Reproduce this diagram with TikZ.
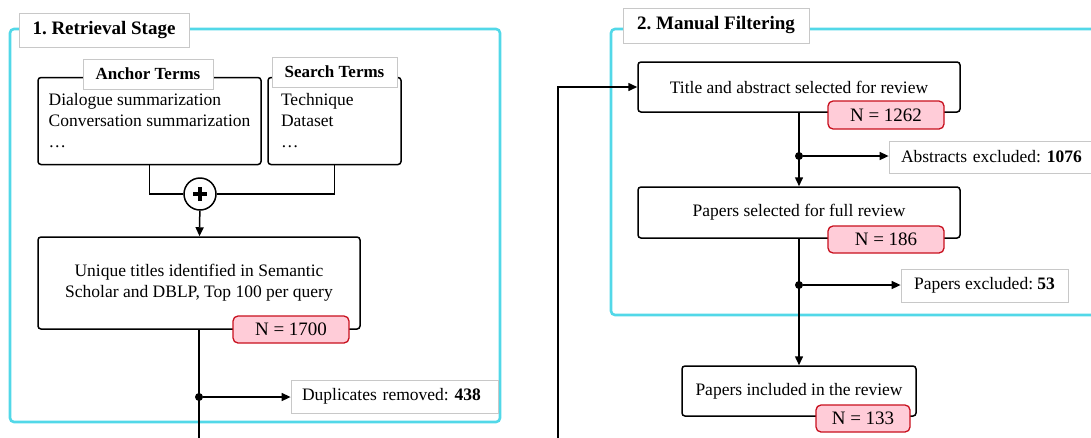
\documentclass[tikz,border=0pt]{standalone}
\usepackage{fontspec}
\setmainfont{Liberation Serif}
\usepackage{tikz}
\usetikzlibrary{arrows.meta}
\definecolor{stagecyan}{HTML}{52D8E8}
\definecolor{labelgray}{HTML}{C8C8C8}
\definecolor{countred}{HTML}{C8101E}
\definecolor{countpink}{HTML}{FFCCD8}
\newcommand{\boxfont}{\fontsize{17.5}{21}\selectfont}
\newcommand{\headfont}{\fontsize{19}{23}\selectfont\bfseries}
\newcommand{\countfont}{\fontsize{19}{23}\selectfont}
\frenchspacing

\begin{document}
\begin{tikzpicture}[x=1pt, y=-1pt, >={Triangle[length=9pt,width=8pt]},
  stageframe/.style={draw=stagecyan, line width=2.6pt, rounded corners=4pt},
  stagehead/.style={draw=labelgray, fill=white, line width=0.8pt, inner sep=0pt, font=\headfont},
  termhead/.style={draw=labelgray, fill=white, line width=0.8pt, inner sep=0pt, font=\fontsize{17}{21}\selectfont\bfseries},
  flowbox/.style={draw, line width=1.5pt, rounded corners=3pt, fill=white, inner sep=0pt, align=center, font=\boxfont},
  countbadge/.style={draw=countred, fill=countpink, line width=1.3pt, rounded corners=5pt, inner sep=0pt, font=\countfont},
  excludebox/.style={draw=labelgray, fill=white, line width=0.8pt, inner sep=0pt, font=\boxfont},
  flowline/.style={line width=1.5pt},
  junction/.style={circle, fill, inner sep=0pt, minimum size=8pt}]
  \useasboundingbox (0,0) rectangle (1091,437);
  \clip (0,0) rectangle (1091,437);
  % Stage frames
  \draw[stageframe] (10,29) rectangle (500,422);
  \draw[stageframe] (611,29) rectangle (1120,315);
  % Retrieval stage
  \node[flowbox, minimum width=223, minimum height=87, align=left] (anchor) at (149.5,121)
    {Dialogue summarization\\Conversation summarization\\\ldots};
  \node[flowbox, minimum width=133, minimum height=87, text width=107, align=left] (search) at (334.5,121)
    {Technique\\Dataset\\\ldots};
  \node[termhead, minimum width=130, minimum height=30] (anchorhead) at (148,74) {Anchor Terms};
  \node[termhead, minimum width=125, minimum height=30] (searchhead) at (334.5,72) {Search Terms};
  \node[circle, draw, fill=white, line width=1.5pt, minimum size=32, inner sep=0pt] (merge) at (200,194) {};
  \draw[line width=4.5pt] ([xshift=-7pt]merge.center) -- ([xshift=7pt]merge.center);
  \draw[line width=4.5pt] ([yshift=-7pt]merge.center) -- ([yshift=7pt]merge.center);
  \draw[flowline] (anchor.south) |- (merge.west);
  \draw[flowline] (search.south) |- (merge.east);
  \node[flowbox, minimum width=322, minimum height=92] (unique) at (199,283)
    {Unique titles identified in Semantic\\Scholar and DBLP, Top 100 per query};
  \draw[flowline, ->] (merge) -- (unique);
  \coordinate (uniqueout) at (199,450);
  \draw[flowline] (unique.south) -- (uniqueout);
  \node[countbadge, minimum width=116, minimum height=27] (count1700) at (291,329.5) {N = 1700};
  \node[excludebox, minimum width=207, minimum height=33, text width=185, align=left] (dup) at (394.5,396.5)
    {Duplicates removed: \textbf{438}};
  \node[junction] (dupfork) at (199,397) {};
  \draw[flowline, ->] (dupfork) -- (dupfork -| dup.west);
  % Manual filtering
  \node[flowbox, minimum width=322, minimum height=50] (titleabs) at (799,87) {Title and abstract selected for review};
  \node[countbadge, minimum width=116, minimum height=28] (count1262) at (886,115) {N = 1262};
  \node[flowbox, minimum width=322, minimum height=51] (fulltext) at (799,212.5) {Papers selected for full review};
  \node[countbadge, minimum width=116, minimum height=27] (count186) at (886,239.5) {N = 186};
  \node[excludebox, minimum width=231, minimum height=32, text width=207, align=left] (absexcl) at (1004.5,157)
    {Abstracts excluded: \textbf{1076}};
  \node[excludebox, minimum width=167, minimum height=33] (papexcl) at (984.5,285.5) {Papers excluded: \textbf{53}};
  \node[flowbox, minimum width=234, minimum height=50] (included) at (799,391) {Papers included in the review};
  \node[countbadge, minimum width=94, minimum height=27] (count133) at (863,418.5) {N = 133};
  \node[junction] (absfork) at (799,156) {};
  \node[junction] (papfork) at (799,285) {};
  \draw[flowline, ->] (titleabs.south) -- (fulltext.north);
  \draw[flowline, ->] (absfork) -- (absfork -| absexcl.west);
  \draw[flowline, ->] (fulltext.south) -- (included.north);
  \draw[flowline, ->] (papfork) -- (papfork -| papexcl.west);
  \coordinate (loopin) at (558,450);
  \draw[flowline, ->] (loopin) |- (titleabs.west);
  % Stage headings
  \node[stagehead, minimum width=170, minimum height=34] (retrhead) at (104,30) {1. Retrieval Stage};
  \node[stagehead, minimum width=186, minimum height=35] (filthead) at (716,25.5) {2. Manual Filtering};
\end{tikzpicture}
\end{document}
